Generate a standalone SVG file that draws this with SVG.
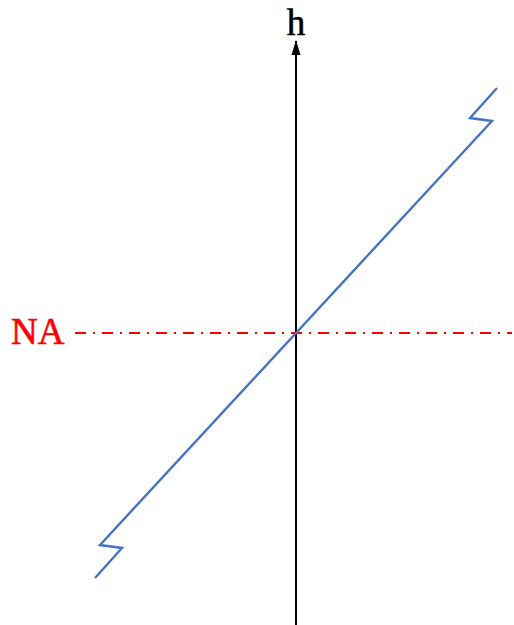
<svg xmlns="http://www.w3.org/2000/svg" width="514" height="625" viewBox="0 0 514 625">
<style>
.lbl{font-family:"Liberation Serif","Times New Roman",serif;font-size:37px;stroke-width:0.6px}
</style>
<defs>
<marker id="arr" markerWidth="16" markerHeight="12" refX="14" refY="5" orient="auto" markerUnits="userSpaceOnUse">
<path d="M0,0.5 L15,5 L0,9.5 Z" fill="#000"/>
</marker>
</defs>
<rect width="514" height="625" fill="#fff"/>
<g id="connectors">
<line id="na-line" x1="75" y1="333" x2="512" y2="333" stroke="#ff0000" stroke-width="2" stroke-dasharray="11,7,2,7"/>
<line id="h-axis" x1="296" y1="625" x2="296" y2="41" stroke="#000" stroke-width="2" marker-end="url(#arr)"/>
<polyline id="strain" points="95,578 122,548 100,545 492,121 470,118 497,88" fill="none" stroke="#4472C4" stroke-width="2.4" stroke-linejoin="miter"/>
</g>
<g id="label-h"><text class="lbl" x="296" y="35" text-anchor="middle" fill="#000" stroke="#000">h</text></g>
<g id="label-na"><text class="lbl" x="11" y="344" fill="#ff0000" stroke="#ff0000">NA</text></g>
</svg>
